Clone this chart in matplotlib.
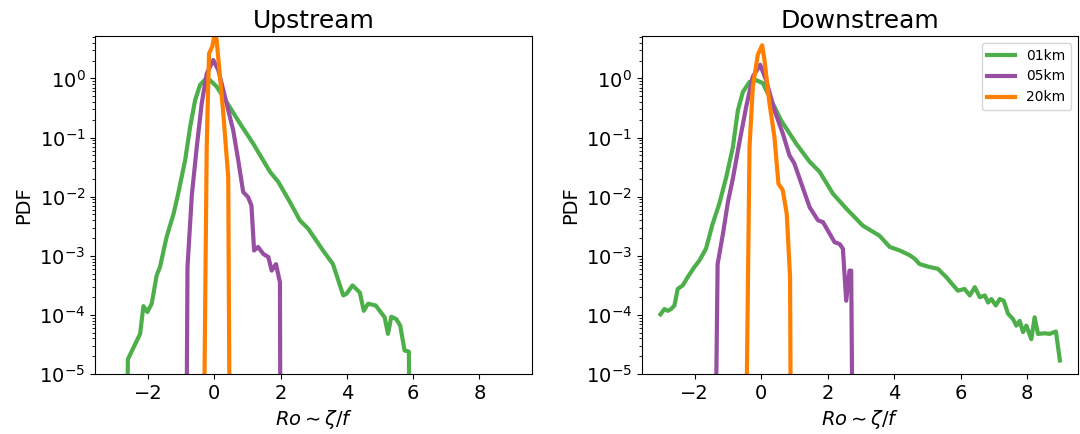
import numpy as np
import matplotlib
matplotlib.use('Agg')
import matplotlib.pyplot as plt

# values (x = Ro, y = log10 PDF); -7 means "dropped to zero"
up_01km_x = [-2.64, -2.61, -2.24, -2.14, -2.02, -1.89, -1.74, -1.64, -1.44, -1.23, -1.08, -0.88,
             -0.73, -0.58, -0.43, -0.28, -0.13, 0.07, 0.37, 0.77, 1.17, 1.68, 1.93, 2.28, 2.58,
             2.83, 3.28, 3.58, 3.89, 3.99, 4.17, 4.39, 4.51, 4.64, 4.87, 5.14, 5.24, 5.34, 5.49,
             5.61, 5.74, 5.87, 5.91]
up_01km_y = [-7, -4.75, -4.32, -3.85, -3.95, -3.81, -3.33, -3.19, -2.68, -2.29, -1.92, -1.38,
             -0.82, -0.37, -0.11, -0.02, -0.03, -0.14, -0.40, -0.76, -1.10, -1.58, -1.75, -2.09,
             -2.40, -2.54, -2.91, -3.14, -3.67, -3.64, -3.50, -3.62, -3.93, -3.81, -3.84, -4.04,
             -4.32, -4.03, -4.07, -4.18, -4.60, -4.62, -7]

up_05km_x = [-0.85, -0.81, -0.68, -0.53, -0.38, -0.23, -0.03, 0.12, 0.32, 0.57, 0.72, 0.87,
             1.02, 1.12, 1.20, 1.32, 1.48, 1.63, 1.73, 1.86, 1.98, 2.00]
up_05km_y = [-7, -3.19, -1.98, -1.16, -0.42, 0.08, 0.31, 0.14, -0.31, -0.88, -1.38, -1.92,
             -2.01, -2.15, -2.91, -2.85, -2.97, -3.02, -3.25, -3.14, -3.45, -7]

up_20km_x = [-0.33, -0.23, -0.16, -0.06, 0.02, 0.07, 0.27, 0.42, 0.47]
up_20km_y = [-7, -1.16, 0.42, 0.54, 0.78, 0.65, -0.59, -1.67, -7]

dn_01km_x = [-3.03, -2.91, -2.81, -2.71, -2.61, -2.51, -2.36, -2.21, -2.01, -1.86, -1.66, -1.46,
             -1.26, -1.05, -0.85, -0.70, -0.55, -0.35, -0.15, 0.05, 0.25, 0.60, 1.05, 1.46, 1.76,
             2.16, 2.56, 3.06, 3.56, 3.87, 4.17, 4.47, 4.62, 4.77, 5.07, 5.32, 5.57, 5.92, 6.12,
             6.28, 6.43, 6.58, 6.73, 6.83, 6.93, 7.06, 7.18, 7.30, 7.43, 7.58, 7.68, 7.78, 7.88,
             7.98, 8.13, 8.23, 8.33, 8.54, 8.68, 8.87, 8.99]
dn_01km_y = [-3.99, -3.90, -3.93, -3.90, -3.84, -3.56, -3.50, -3.36, -3.19, -3.08, -2.88, -2.46,
             -2.12, -1.67, -1.16, -0.54, -0.23, -0.06, -0.03, -0.08, -0.31, -0.71, -1.10, -1.41,
             -1.58, -1.95, -2.20, -2.49, -2.66, -2.85, -2.91, -2.99, -3.05, -3.14, -3.19, -3.22,
             -3.36, -3.59, -3.56, -3.67, -3.53, -3.70, -3.67, -3.79, -3.73, -3.84, -3.73, -3.76,
             -3.98, -4.07, -4.18, -4.10, -4.29, -4.18, -4.41, -4.04, -4.32, -4.31, -4.32, -4.28,
             -4.77]

dn_05km_x = [-1.39, -1.31, -1.15, -1.00, -0.85, -0.65, -0.45, -0.25, -0.03, 0.15, 0.40, 0.65,
             0.85, 1.00, 1.26, 1.46, 1.71, 1.86, 2.21, 2.36, 2.46, 2.56, 2.66, 2.71, 2.76]
dn_05km_y = [-7, -3.14, -2.63, -2.09, -1.69, -1.07, -0.48, 0.03, 0.23, -0.03, -0.54, -0.93,
             -1.30, -1.44, -1.86, -2.18, -2.40, -2.43, -2.77, -2.80, -2.88, -3.76, -3.25, -3.25, -7]

dn_20km_x = [-0.47, -0.35, -0.25, -0.10, 0.03, 0.10, 0.25, 0.40, 0.52, 0.65, 0.77, 0.87, 0.90]
dn_20km_y = [-7, -1.16, -0.14, 0.40, 0.56, 0.31, -0.42, -0.99, -1.78, -1.89, -2.29, -3.36, -7]

labels = ['01km', '05km', '20km']
colors = ['#4daf4a', '#984ea3', '#ff7f00']

fig = plt.figure(figsize=(10.8, 4.34), dpi=100)
ax1 = fig.add_axes([0.088, 0.138, 0.405, 0.779])
ax2 = fig.add_axes([0.594, 0.138, 0.404, 0.779])

panels = [
    (ax1, 'Upstream', [(up_01km_x, up_01km_y), (up_05km_x, up_05km_y), (up_20km_x, up_20km_y)]),
    (ax2, 'Downstream', [(dn_01km_x, dn_01km_y), (dn_05km_x, dn_05km_y), (dn_20km_x, dn_20km_y)]),
]

for ax, title, series in panels:
    for (x, y), lab, c in zip(series, labels, colors):
        ax.plot(x, 10 ** np.array(y), color=c, lw=3, label=lab)
    ax.set_yscale('log')
    ax.set_ylim(1e-5, 5.2)
    ax.set_title(title, fontsize=18)
    ax.set_xlabel(r'$Ro \sim \zeta/f$', fontsize=14)
    ax.set_ylabel('PDF', fontsize=14)
    ax.tick_params(labelsize=14)
    ax.set_xticks([-2, 0, 2, 4, 6, 8])

ax1.set_xlim(-3.6, 9.6)
ax2.set_xlim(-3.6, 9.53)
ax2.legend(loc='upper right', fontsize=10)

fig.savefig('out.png', dpi=100)
